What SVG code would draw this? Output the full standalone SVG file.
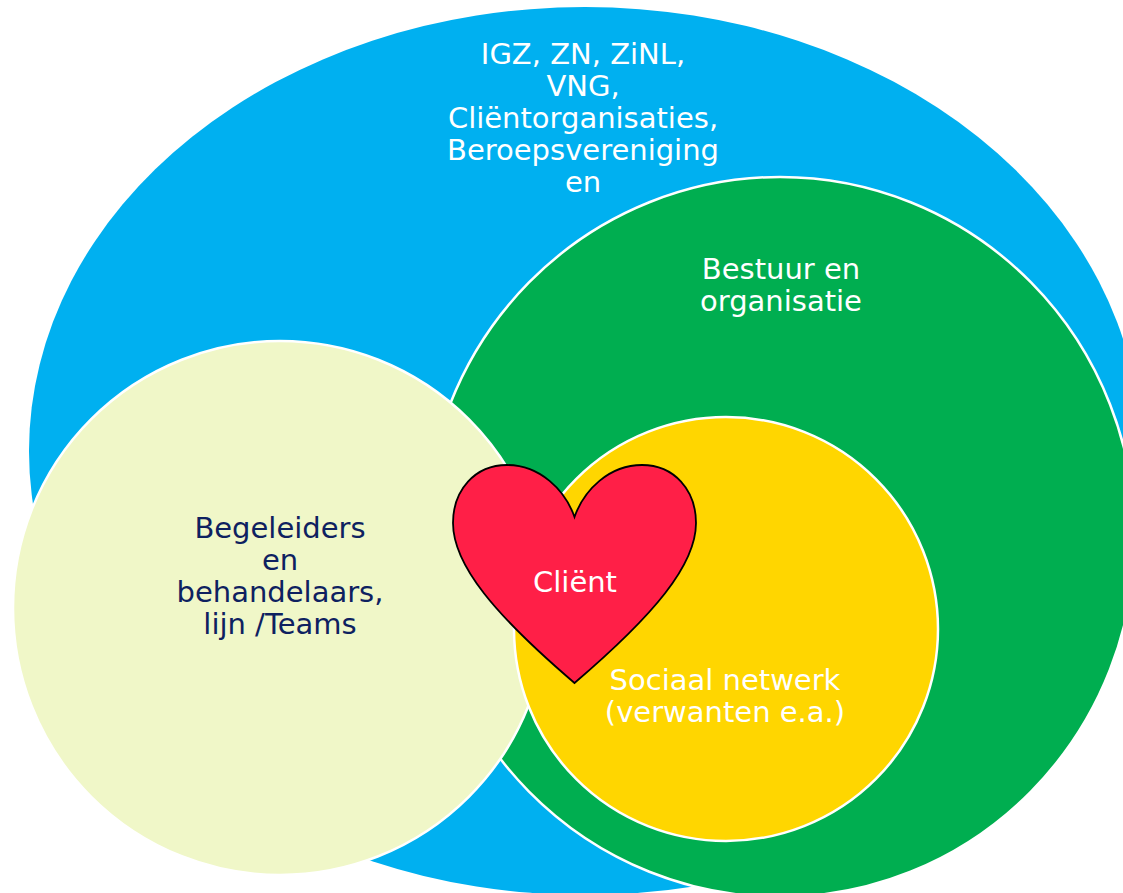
<svg xmlns="http://www.w3.org/2000/svg" width="1123" height="893" viewBox="0 0 1123 893">
<style>
.lbl{font-family:"DejaVu Sans","Verdana",sans-serif;font-size:29px;text-anchor:middle}
.w{fill:#FFFFFF}
.d{fill:#0E2160}
.ring{stroke:#FFFFFF;stroke-width:2.5}
</style>
<rect width="1123" height="893" fill="#FFFFFF"/>
<g id="node-extern">
<ellipse cx="585" cy="451" rx="556" ry="444" fill="#00B0F0"/>
<text class="lbl w"><tspan x="583" y="64">IGZ, ZN, ZiNL,</tspan><tspan x="583" y="96">VNG,</tspan><tspan x="583" y="128">Cliëntorganisaties,</tspan><tspan x="583" y="160">Beroepsvereniging</tspan><tspan x="583" y="192">en</tspan></text>
</g>
<g id="node-bestuur">
<ellipse class="ring" cx="780" cy="537" rx="355" ry="360" fill="#00AE50"/>
<text class="lbl w"><tspan x="781" y="279">Bestuur en</tspan><tspan x="781" y="311">organisatie</tspan></text>
</g>
<g id="node-begeleiders">
<ellipse class="ring" cx="280" cy="608" rx="267" ry="267" fill="#F0F7C8"/>
<text class="lbl d"><tspan x="280" y="538">Begeleiders</tspan><tspan x="280" y="570">en</tspan><tspan x="280" y="602">behandelaars,</tspan><tspan x="280" y="634">lijn /Teams</tspan></text>
</g>
<g id="node-sociaal">
<ellipse class="ring" cx="726" cy="629" rx="212" ry="212" fill="#FFD600"/>
<text class="lbl w"><tspan x="725" y="690">Sociaal netwerk</tspan><tspan x="725" y="722">(verwanten e.a.)</tspan></text>
</g>
<g id="node-client">
<path d="M574.5 517 C565 490 540 465 507 465 C475 465 453 490 453 523 C453 565 495 615 574.5 683 C654 615 696 565 696 523 C696 490 674 465 642 465 C609 465 584 490 574.5 517 Z" fill="#FF1F47" stroke="#000000" stroke-width="1.8" stroke-linejoin="miter"/>
<text class="lbl w" x="575" y="592">Cliënt</text>
</g>
<g id="connectors"></g>
</svg>
